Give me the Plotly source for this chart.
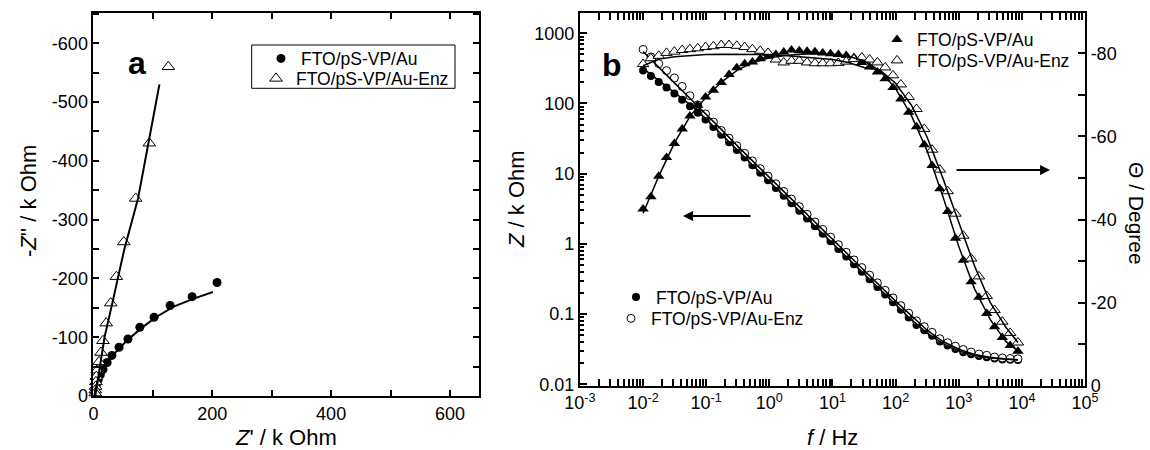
import plotly.graph_objects as go

# ---------------- panel a: Nyquist plot ----------------
nyq_au_re = [208, 166, 129, 102, 78, 58, 43, 31, 23, 16, 11.5, 7.6, 4.8, 3.0, 1.5]
nyq_au_im = [-193, -169, -154, -134, -117, -97, -83, -69, -57, -45, -36, -27, -19, -12, -6]
nyq_enz_re = [126, 94, 71, 51, 38.5, 29, 21.5, 16, 12.6, 9.3, 6.4, 4.8, 4.0, 3.5, 3.0, 3.0]
nyq_enz_im = [-560, -430, -336, -262, -203, -158, -124, -94, -74, -58, -44, -33, -24, -16, -10, -5]

nyq_fit_au_re = [0.5, 3, 7, 13, 22, 35, 55, 80, 105, 135, 170, 201]
nyq_fit_au_im = [0, -12, -26, -40, -55, -72, -93, -115, -134, -152, -166, -177]
nyq_fit_enz_re = [3, 10.4, 18.8, 31.7, 52, 75, 92, 111]
nyq_fit_enz_im = [0, -44, -101, -158, -250, -336, -430, -530]

# ---------------- panel b: Bode plot ----------------
freq = [0.0100, 0.0133, 0.0177, 0.0235, 0.0313, 0.0416, 0.0552, 0.0734, 0.0976,
        0.130, 0.173, 0.230, 0.305, 0.406, 0.539, 0.717, 0.953, 1.27, 1.69, 2.24,
        2.98, 3.96, 5.27, 7.00, 9.31, 12.4, 16.5, 21.9, 29.1, 38.7, 51.4, 68.3,
        90.9, 121, 161, 214, 284, 378, 502, 667, 887, 1180, 1570, 2090, 2770,
        3690, 4900, 6520, 8660]

z_au = [295, 247, 203, 169, 139, 113, 91, 74, 59.1, 46.2, 36.0, 28.0, 21.8, 17.0,
        13.2, 10.3, 8.05, 6.25, 4.87, 3.79, 2.96, 2.30, 1.79, 1.40, 1.09, 0.849,
        0.661, 0.515, 0.401, 0.313, 0.243, 0.190, 0.148, 0.115, 0.0897, 0.0698,
        0.0589, 0.0490, 0.0407, 0.0357, 0.0318, 0.0286, 0.0269, 0.0252, 0.0242,
        0.0234, 0.0226, 0.0223, 0.0221]
z_enz = [589, 460, 369, 294, 231, 175, 129, 95.3, 71.0, 54.3, 41.3, 32.1, 25.0, 19.5,
         15.2, 11.8, 9.24, 7.18, 5.59, 4.35, 3.40, 2.64, 2.05, 1.61, 1.25, 0.975,
         0.759, 0.591, 0.460, 0.359, 0.279, 0.218, 0.170, 0.132, 0.103, 0.0801,
         0.0661, 0.0550, 0.0446, 0.0391, 0.0349, 0.0313, 0.0288, 0.0270, 0.0259,
         0.0245, 0.0237, 0.0233, 0.0231]
phase_au = [-42.5, -45.5, -50.4, -54.9, -58.3, -61.8, -64.9, -67.5, -69.5, -71.1,
            -73.0, -74.9, -76.5, -77.5, -77.9, -78.7, -79.3, -79.7, -80.3, -80.8,
            -80.6, -80.5, -80.4, -80.1, -79.9, -79.7, -79.5, -79.0, -77.8, -76.7,
            -75.5, -73.9, -71.8, -69.0, -65.8, -62.3, -58.0, -53.0, -47.4, -41.9,
            -35.5, -30.2, -25.0, -21.3, -17.4, -14.2, -11.6, -9.7, -8.3]
phase_enz = [-77.4, -78.8, -79.4, -80.1, -80.4, -80.8, -81.0, -81.2, -81.5, -81.7,
             -82.0, -82.0, -81.8, -81.5, -81.0, -80.6, -80.1, -78.5, -77.8, -78.2,
             -78.2, -77.8, -77.6, -77.6, -77.6, -77.7, -78.0, -78.6, -79.0, -78.5,
             -77.8, -76.6, -74.7, -72.5, -69.5, -66.6, -61.8, -56.8, -52.0, -46.8,
             -41.4, -36.1, -30.6, -26.3, -21.6, -18.2, -15.4, -12.7, -10.4]

fit_freq = [0.01, 0.0178, 0.0316, 0.0562, 0.1, 0.178, 0.316, 0.562, 1, 1.78, 3.16,
            5.62, 10, 17.8, 31.6, 56.2, 100, 178, 316, 562, 1000, 1780, 3160, 5620, 8660]
fit_z_au = [316, 214, 145, 95.5, 60, 35.5, 21.4, 12.9, 7.76, 4.62, 2.79, 1.69, 1.02,
            0.615, 0.372, 0.224, 0.135, 0.0832, 0.0537, 0.038, 0.0299, 0.0257,
            0.0237, 0.0225, 0.0221]
fit_z_enz = [550, 324, 195, 117, 70.8, 41.7, 24.5, 14.8, 8.9, 5.31, 3.20, 1.93, 1.16,
             0.70, 0.422, 0.254, 0.153, 0.0933, 0.0589, 0.0407, 0.0316, 0.0266,
             0.0243, 0.0229, 0.0224]
fit_ph_au = [-41.5, -50.5, -58.5, -65.0, -69.5, -73.2, -76.0, -77.8, -78.9, -79.5,
             -79.8, -79.9, -79.8, -79.3, -78.2, -75.8, -71.5, -65.0, -56.5, -45.5,
             -33.5, -23.3, -15.9, -10.6, -8.3]
fit_ph_enz = [-77.0, -78.6, -79.2, -79.5, -79.7, -79.8, -79.8, -79.8, -79.7, -79.5,
              -79.2, -78.9, -78.5, -77.8, -76.6, -76.0, -72.8, -67.5, -59.8, -49.9,
              -39.1, -28.8, -20.0, -14.0, -10.4]

label_au = "FTO/pS-VP/Au"
label_enz = "FTO/pS-VP/Au-Enz"

FONT = "Liberation Sans, Arial, sans-serif"
BLACK = "black"
W, H = 1150, 450

fig = go.Figure()

# panel a traces
fig.add_trace(go.Scatter(x=nyq_au_re, y=nyq_au_im, mode="markers", name=label_au,
                         marker=dict(symbol="circle", size=9, color=BLACK),
                         xaxis="x", yaxis="y", legend="legend", cliponaxis=False))
fig.add_trace(go.Scatter(x=nyq_enz_re, y=nyq_enz_im, mode="markers", name=label_enz,
                         marker=dict(symbol="triangle-up", size=11, color="white",
                                     line=dict(color=BLACK, width=1)),
                         xaxis="x", yaxis="y", legend="legend2", cliponaxis=False))
fig.add_trace(go.Scatter(x=nyq_fit_au_re, y=nyq_fit_au_im, mode="lines",
                         line=dict(color=BLACK, width=2), showlegend=False,
                         xaxis="x", yaxis="y"))
fig.add_trace(go.Scatter(x=nyq_fit_enz_re, y=nyq_fit_enz_im, mode="lines",
                         line=dict(color=BLACK, width=2), showlegend=False,
                         xaxis="x", yaxis="y"))

# panel b traces: modulus on the left axis, phase on the right axis
fig.add_trace(go.Scatter(x=freq, y=z_au, mode="markers", name=label_au,
                         marker=dict(symbol="circle", size=8, color=BLACK),
                         xaxis="x2", yaxis="y2", legend="legend5"))
fig.add_trace(go.Scatter(x=freq, y=z_enz, mode="markers", name=label_enz,
                         marker=dict(symbol="circle", size=8, color="white",
                                     line=dict(color=BLACK, width=1)),
                         xaxis="x2", yaxis="y2", legend="legend6"))
fig.add_trace(go.Scatter(x=freq, y=phase_au, mode="markers", name=label_au,
                         marker=dict(symbol="triangle-up", size=10, color=BLACK),
                         xaxis="x2", yaxis="y3", legend="legend3"))
fig.add_trace(go.Scatter(x=freq, y=phase_enz, mode="markers", name=label_enz,
                         marker=dict(symbol="triangle-up", size=10, color="white",
                                     line=dict(color=BLACK, width=1)),
                         xaxis="x2", yaxis="y3", legend="legend4"))
for fy, ax in ((fit_z_au, "y2"), (fit_z_enz, "y2"), (fit_ph_au, "y3"), (fit_ph_enz, "y3")):
    fig.add_trace(go.Scatter(x=fit_freq, y=fy, mode="lines", showlegend=False,
                             line=dict(color=BLACK, width=1.5),
                             xaxis="x2", yaxis=ax))

tick_font = dict(family=FONT, size=18, color=BLACK)
common = dict(showline=True, linecolor=BLACK, linewidth=2, ticks="inside",
              tickcolor=BLACK, tickwidth=1.5, showgrid=False, zeroline=False,
              tickfont=tick_font, automargin=False)

nyq_x_ticks = [0, 200, 400, 600]
nyq_y_ticks = [0, -100, -200, -300, -400, -500, -600]
freq_ticks = [1e-3, 1e-2, 1e-1, 1e0, 1e1, 1e2, 1e3, 1e4, 1e5]
freq_text = [f"10<sup>{e}</sup>" for e in range(-3, 6)]
z_ticks = [0.01, 0.1, 1, 10, 100, 1000]
z_text = ["0.01", "0.1", "1", "10", "100", "1000"]
ph_ticks = [0, -20, -40, -60, -80]

minor_f = [m * 10 ** e for e in range(-3, 5) for m in range(2, 10)]
minor_z = [m * 10 ** e for e in range(-2, 4) for m in range(2, 10)]


def legend_at(left_px, top_px):
    """Single-entry legend placed by its top-left corner in pixels."""
    return dict(x=left_px / W, y=1 - top_px / H, xanchor="left", yanchor="top",
                bgcolor="rgba(0,0,0,0)", borderwidth=0,
                font=dict(family=FONT, size=17.5, color=BLACK))


fig.update_layout(
    width=W, height=H,
    margin=dict(l=0, r=0, t=0, b=0, autoexpand=False),
    paper_bgcolor="white", plot_bgcolor="white",
    font=dict(family=FONT, color=BLACK),
    xaxis=dict(domain=[0.0813, 0.4163], range=[0, 648.5], anchor="y",
               tickvals=nyq_x_ticks, mirror="allticks", ticklen=6,
               minor=dict(dtick=100, ticks="inside", ticklen=6, tickcolor=BLACK),
               **common),
    yaxis=dict(domain=[0.12, 0.9718], range=[0, -652], anchor="x",
               tickvals=nyq_y_ticks, ticktext=[str(v) for v in nyq_y_ticks],
               mirror="allticks", ticklen=6,
               minor=dict(dtick=50, ticks="inside", ticklen=6, tickcolor=BLACK),
               **common),
    xaxis2=dict(domain=[0.5043, 0.9435], type="log", range=[-3, 5], anchor="y2",
                tickvals=freq_ticks, ticktext=freq_text, mirror="allticks", ticklen=7,
                minor=dict(tickmode="array", tickvals=minor_f, ticks="inside",
                           ticklen=4, tickcolor=BLACK),
                **common),
    yaxis2=dict(domain=[0.1429, 0.9711], type="log", range=[-2.02, 3.289], anchor="x2",
                tickvals=z_ticks, ticktext=z_text, ticklen=7,
                minor=dict(tickmode="array", tickvals=minor_z, ticks="inside",
                           ticklen=4, tickcolor=BLACK),
                **common),
    yaxis3=dict(overlaying="y2", side="right", range=[0, -89.7], anchor="x2",
                tickvals=ph_ticks, ticktext=[str(v) for v in ph_ticks], ticklen=7,
                minor=dict(dtick=10, ticks="inside", ticklen=7, tickcolor=BLACK),
                **common),
    legend=legend_at(261, 40.5),
    legend2=legend_at(256, 60.5),
    legend3=legend_at(877, 21.5),
    legend4=legend_at(877, 42.5),
    legend5=legend_at(616, 279),
    legend6=legend_at(611, 300.5),
)

# frame around the panel a key
fig.add_shape(type="rect", xref="paper", yref="paper",
              x0=251.7 / W, x1=455 / W, y0=1 - 88.3 / H, y1=1 - 45 / H,
              line=dict(color=BLACK, width=1), fillcolor="rgba(0,0,0,0)", layer="below")

title_font = dict(family=FONT, size=22, color=BLACK)
annotations = [
    dict(text="<i>Z</i>' / k Ohm", x=286 / W, y=1 - 437 / H),
    dict(text="-<i>Z</i>'' / k Ohm", x=28 / W, y=1 - 201 / H, textangle=-90),
    dict(text="<i>f</i> / Hz", x=832 / W, y=1 - 437 / H),
    dict(text="<i>Z</i> / k Ohm", x=516 / W, y=1 - 199 / H, textangle=-90),
    dict(text="Θ / Degree", x=1137 / W, y=1 - 213 / H, textangle=90,
         font=dict(family=FONT, size=21, color=BLACK)),
]
for a in annotations:
    a.setdefault("font", title_font)
    fig.add_annotation(xref="paper", yref="paper", showarrow=False,
                       xanchor="center", yanchor="middle", **a)

panel_font = dict(family=FONT, size=32, color=BLACK)
fig.add_annotation(text="<b>a</b>", xref="paper", yref="paper", x=126 / W,
                   y=1 - 43 / H, showarrow=False, font=panel_font)
fig.add_annotation(text="<b>b</b>", xref="paper", yref="paper", x=612 / W,
                   y=1 - 45 / H, showarrow=False, font=panel_font)

# direction arrows pointing to the axis each data set belongs to
fig.add_annotation(xref="x2", yref="y2", x=-1.368, y=0.397, ax=69, ay=0,
                   axref="pixel", ayref="pixel", showarrow=True, arrowhead=2,
                   arrowsize=1, arrowwidth=2, arrowcolor=BLACK, text="")
fig.add_annotation(xref="x2", yref="y2", x=4.446, y=1.053, ax=-95, ay=0,
                   axref="pixel", ayref="pixel", showarrow=True, arrowhead=2,
                   arrowsize=1, arrowwidth=2, arrowcolor=BLACK, text="")

fig.write_html("out.html")
